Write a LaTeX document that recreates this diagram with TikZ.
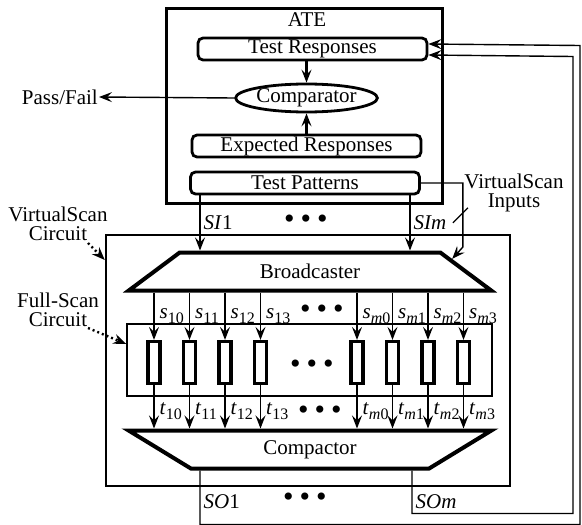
\documentclass[tikz,border=0pt]{standalone}
\usepackage{fontspec}
\setmainfont{Liberation Serif}
\usetikzlibrary{arrows.meta,calc,shapes.geometric}

\newcommand\lowsub[1]{\raisebox{-4.5pt}{\fontsize{16}{16}\selectfont #1}}
\newcommand\onedot{{\fontsize{30}{30}\selectfont\textbullet}}
\newcommand\threedots{\onedot\hspace{6pt}\onedot\hspace{6pt}\onedot}

\begin{document}
\begin{tikzpicture}[
  x=1pt, y=-1pt,
  font=\fontsize{21}{19.5}\selectfont,
  frame/.style={draw, line width=2.4pt, inner sep=0pt},
  box/.style={draw, rounded corners=5pt, line width=2.8pt, minimum width=229, minimum height=22, inner sep=0pt},
  trap/.style={draw, trapezium, trapezium stretches=true, trapezium left angle=37, trapezium right angle=37,
    line width=4pt, minimum width=363, minimum height=38, inner sep=0pt},
  cell/.style={draw, line width=3.2pt, minimum width=12, minimum height=42, inner sep=0pt},
  wire/.style={line width=1.4pt},
  arr/.style={wire, -{Stealth[length=13pt,width=10pt,inset=5pt]}},
  ptr/.style={line width=2.4pt, dash pattern=on 2pt off 3pt, -{Stealth[length=13pt,width=10pt]}},
  lbl/.style={anchor=west, inner sep=1pt, xshift=4pt},
]
  \useasboundingbox (0,0) rectangle (582,525);

  % ATE side
  \node[frame, line width=3pt, minimum width=276, minimum height=195] (ate) at (304,105.5) {};
  \node (atetitle) at (307,20) {ATE};
  \node[box] (tresp) at (312.5,49) {Test Responses};
  \node[draw, ellipse, line width=2.8pt, minimum width=131, minimum height=28, inner sep=0pt] (comp) at (306.5,98) {Comparator};
  \node[box] (eresp) at (306.5,146) {Expected Responses};
  \node[box] (tpat) at (305,183) {Test Patterns};
  \node[anchor=east, inner sep=1pt] (pf) at (99,97) {Pass/Fail};

  \draw[arr, line width=2.2pt] (comp.north |- tresp.south) -- (comp.north);
  \draw[arr, line width=2.2pt] (eresp.north) -- (comp.south);
  \draw[arr] (comp.west) -- (pf.east);

  % VirtualScan circuit
  \node[frame, minimum width=404, minimum height=251] (vsc) at (308,360.5) {};
  \node[draw, wire, minimum width=365, minimum height=72, inner sep=0pt] (fsc) at (309.5,360) {};
  \node[trap] (bcast) at (310,271.5) {Broadcaster};
  \node[trap, shape border rotate=180] (cmp) at (310,449.5) {Compactor};

  \draw[arr] ([xshift=-105pt]tpat.south) -- node[lbl, xshift=-2pt] {\textit{SI}1} ([xshift=-105pt]tpat.south |- bcast.north);
  \draw[arr] ([xshift=105pt]tpat.south) -- node[lbl, xshift=-2pt] {\textit{SIm}} ([xshift=105pt]tpat.south |- bcast.north);
  \node (sidots) at (306,222) {\threedots};

  \coordinate (vsin) at ($(bcast.top right corner)!0.2!(bcast.bottom right corner)$);
  \draw[arr] (tpat.east) -- ++(42,0) -- ++(0,64) -- (vsin);
  \node[align=center] (vsinlab) at (514,193) {VirtualScan\\Inputs};
  \draw[wire] ($(vsinlab.south west)+(7,-8)$) -- ++(-15,15);

  % scan chains
  \foreach \n/\x/\idx in {10/154/10, 11/189.5/11, 12/225/12, 13/260.5/13,
      m0/357/{\textit{m}0}, m1/392.5/{\textit{m}1}, m2/428/{\textit{m}2}, m3/463.5/{\textit{m}3}} {
    \node[cell] (c\n) at (\x,362.5) {};
    \draw[arr] (c\n.north |- bcast.south) -- node[lbl] {\textit{s}\lowsub{\idx}} (c\n.north);
    \draw[arr] (c\n.south) -- node[lbl, pos=0.6] {\textit{t}\lowsub{\idx}} (c\n.south |- cmp.north);
  }
  \node (sdots) at (322,312) {\threedots};
  \node (cdots) at (312,367) {\threedots};
  \node (tdots) at (320,413) {\threedots};

  \node[align=center] (vsclab) at (58,224) {VirtualScan\\Circuit};
  \node[align=center] (fsclab) at (58,310) {Full-Scan\\Circuit};
  \coordinate (vscptr) at (88,243);
  \coordinate (fscptr) at (88,328);
  \draw[ptr] (vscptr) -- ([yshift=100.5pt]vsc.west);
  \draw[ptr] (fscptr) -- ([yshift=16pt]fsc.west);

  % responses back to the ATE
  \draw[arr] ([xshift=-110pt]cmp.south) -- node[lbl, pos=0.57, xshift=-2pt] {\textit{SO}1} ++(0,54) -- ++(380,0) -- ++(0,-479) -- ([yshift=5pt]tresp.east);
  \draw[arr] ([xshift=102pt]cmp.south) -- node[lbl, pos=0.72, xshift=-2pt] {\textit{SOm}} ++(0,43) -- ++(161,0) -- ++(0,-457) -- ([yshift=-6pt]tresp.east);
  \node (sodots) at (305,500) {\threedots};
\end{tikzpicture}
\end{document}
